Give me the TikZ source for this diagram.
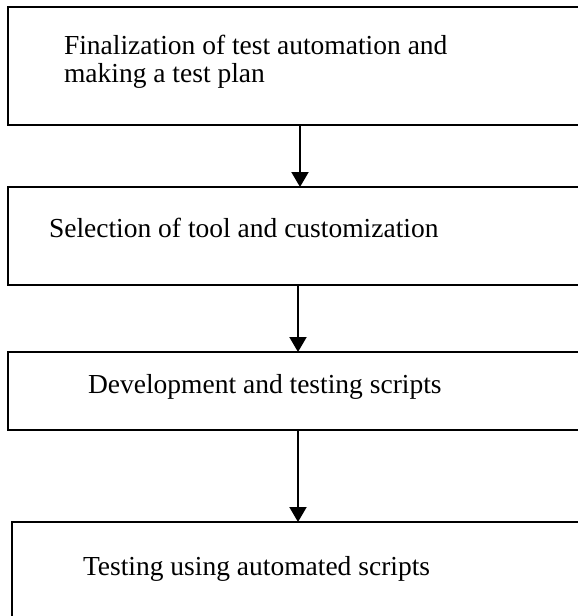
\documentclass[tikz,border=0pt]{standalone}
\usepackage{fontspec}
\setmainfont{Liberation Serif}
\usetikzlibrary{arrows.meta, positioning}

\begin{document}
\begin{tikzpicture}[x=1pt, y=1pt, line width=2pt]

    % Define styles for the boxes, texts and arrows
    \tikzstyle{stage} = [draw, rectangle, inner sep=0pt, outer sep=0pt]
    \tikzstyle{caption} = [anchor=base west, inner sep=0pt, align=left, font=\fontsize{27.5}{28}\selectfont]
    \tikzstyle{flow} = [-{Triangle[width=17pt, length=15pt]}, line width=2pt, black]

    \useasboundingbox (0,0) rectangle (578,-616);

    \node (plan) [stage, anchor=north west, minimum width=584pt, minimum height=118pt] at (8,-7) {};
    \node (tool) [stage, below=62pt of plan, minimum width=584pt, minimum height=98pt] {};
    \node (dev) [stage, below=67pt of tool, xshift=-2pt, minimum width=580pt, minimum height=78pt] {};
    \node (run) [stage, below=92pt of dev, minimum width=572pt, minimum height=110pt] {};

    % base of a two-line text is its last line
    \node (plantext) [caption] at ([xshift=55pt, yshift=-75pt]plan.north west) {Finalization of test automation and\\making a test plan};
    \node (tooltext) [caption] at ([xshift=40pt, yshift=-50pt]tool.north west) {Selection of tool and customization};
    \node (devtext) [caption] at ([xshift=79pt, yshift=-41pt]dev.north west) {Development and testing scripts};
    \node (runtext) [caption] at ([xshift=70pt, yshift=-53pt]run.north west) {Testing using automated scripts};

    \draw[flow] (plan) -- (tool);
    \draw[flow] (dev.north |- tool.south) -- (dev);
    \draw[flow] (dev) -- (run);

\end{tikzpicture}
\end{document}
